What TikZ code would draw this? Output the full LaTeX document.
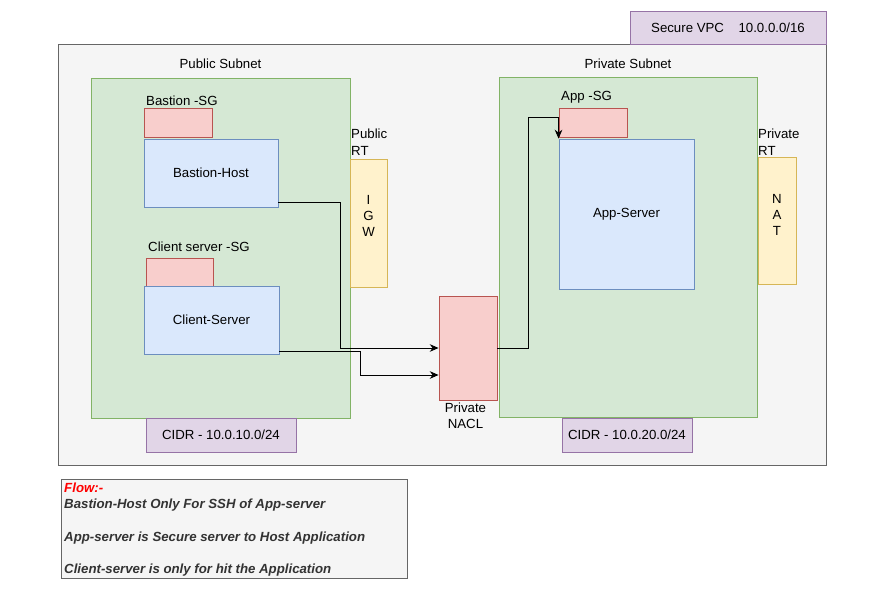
\documentclass[tikz,border=0pt]{standalone}
\usepackage{fontspec}
\setmainfont{Liberation Sans}
\usepackage{tikz}
\usetikzlibrary{arrows.meta}
\usepackage{xcolor}
\definecolor{vpcfill}{HTML}{F5F5F5}
\definecolor{vpcline}{HTML}{666666}
\definecolor{lilafill}{HTML}{E1D5E7}
\definecolor{lilaline}{HTML}{9673A6}
\definecolor{greenfill}{HTML}{D5E8D4}
\definecolor{greenline}{HTML}{82B366}
\definecolor{redfill}{HTML}{F8CECC}
\definecolor{redline}{HTML}{B85450}
\definecolor{bluefill}{HTML}{DAE8FC}
\definecolor{blueline}{HTML}{6C8EBF}
\definecolor{yellowfill}{HTML}{FFF2CC}
\definecolor{yellowline}{HTML}{D6B656}
\definecolor{flowtext}{HTML}{333333}

\begin{document}
\begin{tikzpicture}[x=0.03cm,y=-0.03cm,
		every node/.style={font=\fontsize{11.3}{14}\selectfont,inner sep=0pt},
		vpcbox/.style={draw=vpcline,fill=vpcfill,line width=0.8pt},
		cidrbox/.style={draw=lilaline,fill=lilafill,line width=0.8pt},
		subnetbox/.style={draw=greenline,fill=greenfill,line width=0.8pt},
		sgbox/.style={draw=redline,fill=redfill,line width=0.8pt},
		hostbox/.style={draw=blueline,fill=bluefill,line width=0.8pt},
		rtbox/.style={draw=yellowline,fill=yellowfill,line width=0.8pt},
		link/.style={draw,line width=0.7pt,-{Stealth[length=7.5pt,width=6.5pt]}}]
			\useasboundingbox (0,0) rectangle (886,591);
			% VPC
			\node[vpcbox,minimum width=23.04cm,minimum height=12.63cm] (vpc) at (442,254.5) {};
			\node[cidrbox,minimum width=5.88cm,minimum height=0.99cm] (vpcname) at (728,27.5) {Secure VPC\hspace{1.1em}10.0.0.0/16};
			\begin{scope}
				% public subnet
				\node (publbl) at (220.5,64) {Public Subnet};
				\node[subnetbox,minimum width=7.77cm,minimum height=10.2cm] (pub) at (220.5,248) {};
				\node[anchor=west] (bsglbl) at (146,101) {Bastion -SG};
				\node[sgbox,minimum width=2.04cm,minimum height=0.87cm] (bsg) at (178,122.5) {};
				\node[hostbox,minimum width=4.02cm,minimum height=2.04cm] (bhost) at (211,173) {Bastion-Host};
				\node[anchor=west] (csglbl) at (148,247) {Client server -SG};
				\node[sgbox,minimum width=2.01cm,minimum height=0.87cm] (csg) at (179.5,272.5) {};
				\node[hostbox,minimum width=4.05cm,minimum height=2.04cm] (chost) at (211.5,320) {Client-Server};
				\node[anchor=west,align=left,font=\fontsize{11.3}{14.5}\selectfont] (pubrt) at (351,142) {Public\\RT};
				\node[rtbox,minimum width=1.11cm,minimum height=3.84cm] (igw) at (368.5,223) {};
				\node[align=center] (igwlbl) at (368.5,216) {I\\G\\W};
				\node[cidrbox,minimum width=4.5cm,minimum height=1.02cm] (pubcidr) at (221,435) {CIDR - 10.0.10.0/24};
			\end{scope}
			\begin{scope}
				% private subnet
				\node (privlbl) at (628,64) {Private Subnet};
				\node[subnetbox,minimum width=7.74cm,minimum height=10.2cm] (priv) at (628,247) {};
				\node[anchor=west] (asglbl) at (561,97) {App -SG};
				\node[sgbox,minimum width=2.04cm,minimum height=0.87cm] (asg) at (593,122.5) {};
				\node[hostbox,minimum width=4.05cm,minimum height=4.5cm] (ahost) at (626.5,214) {App-Server};
				\node[anchor=west,align=left,font=\fontsize{11.3}{14.5}\selectfont] (privrt) at (758,142) {Private\\RT};
				\node[rtbox,minimum width=1.14cm,minimum height=3.81cm] (nat) at (777,220.5) {};
				\node[align=center] (natlbl) at (777,215) {N\\A\\T};
				\node[cidrbox,minimum width=3.9cm,minimum height=1.02cm] (privcidr) at (627,435) {CIDR - 10.0.20.0/24};
			\end{scope}
			% NACL
			\node[sgbox,minimum width=1.74cm,minimum height=3.12cm] (nacl) at (468,348) {};
			\node[align=center,font=\fontsize{11.3}{13.6}\selectfont] (nacllbl) at (465.5,416) {Private\\NACL};
			% connectors
			\draw[link] ([yshift=-0.87cm]bhost.east) -- ++(62,0) |- (nacl.west);
			\draw[link] ([yshift=-0.93cm]chost.east) -- ++(81,0) |- ([yshift=-0.81cm]nacl.west);
			\draw[link] (nacl.east) -- ++(31,0) -- ++(0,-231) -| (ahost.north west);
			% flow
			\node[vpcbox,minimum width=10.38cm,minimum height=2.97cm] (flow) at (234,528.5) {};
			\node[anchor=north west,align=left,text=flowtext,font=\fontsize{11.3}{13.8}\bfseries\itshape\selectfont] (flowtxt) at (64,483)
				{\textcolor{red}{Flow:-}\\Bastion-Host Only For SSH of App-server\\[13.8pt]App-server is Secure server to Host Application\\[13.8pt]Client-server is only for hit the Application};
		\end{tikzpicture}
\end{document}
